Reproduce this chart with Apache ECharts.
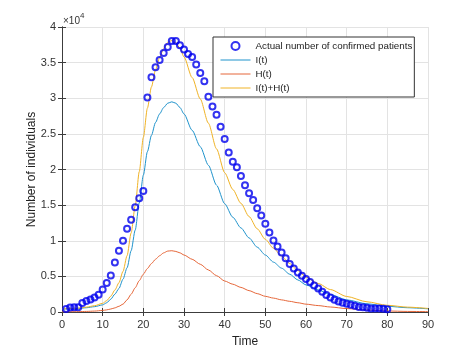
<html>
<head>
    <meta http-equiv="Content-Type" content="text/html; charset=utf-8" />
    <title>Confirmed patients</title>
    <script src="https://cdn.jsdelivr.net/npm/echarts@6/dist/echarts.min.js"></script>
    <style>
        html, body { margin: 0; padding: 0; background: #fff; }
    </style>
</head>
<body>
    <div id="main" style="width:474px;height:351px"></div>

    <script type="text/javascript">
        // observed data: day -> confirmed patients
        var days = [];
        for (var d = 1; d <= 80; d++) days.push(d);
        var confirmed = [
            420, 620, 650, 680, 1260, 1540, 1770, 2050, 2420, 3170,
            4060, 5130, 6950, 8580, 9990, 11670, 12930, 14700, 15970, 16990,
            30110, 32950, 34350, 35380, 36360, 37200, 38040, 38040, 37440, 36830,
            36220, 35800, 34730, 33560, 32400, 30200, 28850, 27680, 26000, 24270,
            22400, 21100, 20300, 19090, 17780, 16660, 15730, 14560, 13530, 12370,
            11150, 10030, 9190, 8350, 7560, 6720, 6110, 5550, 5080, 4620,
            4200, 3730, 3300, 2840, 2380, 2050, 1720, 1490, 1300, 1160,
            1020, 880, 700, 650, 600, 500, 500, 500, 450, 400
        ];

        // model curves, sampled at these times
        var tGrid = [0, 2, 4, 6, 8, 10, 11, 12, 13, 14, 15, 16, 17, 18, 19, 20, 21, 22, 23, 24,
            25, 26, 27, 28, 29, 30, 32, 34, 36, 38, 40, 42, 44, 46, 48, 50, 52, 54, 56, 58,
            60, 63, 66, 70, 75, 80, 85, 90];
        var iValues = [400, 450, 500, 600, 750, 1000, 1300, 1800, 2500, 3300, 4600, 6200, 8600, 11500, 15300, 19200, 22500, 24800, 26600, 27800,
            28700, 29300, 29500, 29300, 28700, 27800, 25500, 23200, 20600, 17800, 15200, 13300, 11800, 10400, 9100, 8000, 7000, 6150, 5300, 4500,
            3800, 3100, 2450, 1700, 1150, 800, 600, 450];
        var hValues = [30, 40, 50, 80, 130, 220, 300, 420, 580, 800, 1100, 1700, 2500, 3400, 4400, 5300, 6100, 6800, 7400, 7900,
            8300, 8550, 8600, 8500, 8300, 8000, 7400, 6700, 5900, 5100, 4350, 3900, 3450, 3000, 2580, 2200, 1950, 1700, 1500, 1300,
            1100, 900, 700, 480, 280, 140, 80, 50];
        var ihValues = [430, 490, 550, 680, 880, 1220, 1600, 2220, 3080, 4100, 5700, 7900, 11100, 14900, 19700, 24500, 28600, 31600, 34000, 35700,
            37000, 37850, 38100, 37800, 37000, 35800, 32900, 29900, 26500, 22900, 19550, 17200, 15250, 13400, 11680, 10200, 8950, 7850, 6800, 5800,
            4900, 4000, 3150, 2180, 1430, 940, 680, 500];

        var xTicks = [0, 90, 10];       // min, max, interval
        var yTicks = [0, 40000, 5000];

        function pairs(xs, ys) {
            var out = [];
            for (var i = 0; i < xs.length; i++) out.push([xs[i], ys[i]]);
            return out;
        }

        var font = 'Liberation Sans, Arial, sans-serif';
        var axisColor = '#3c3c3c';

        function lineSeries(name, color, vals) {
            return {
                name: name,
                type: 'line',
                data: pairs(tGrid, vals),
                symbol: 'none',
                smooth: 0.25,
                smoothMonotone: 'x',
                lineStyle: { color: color, width: 1 },
                itemStyle: { color: color },
                z: 2
            };
        }

        var option = {
            animation: false,
            backgroundColor: '#fff',
            textStyle: { fontFamily: font },
            grid: { left: 62, right: 46, top: 27, bottom: 39, containLabel: false, outerBoundsMode: 'none' },
            graphic: [{
                type: 'text',
                left: 63,
                top: 12,
                style: {
                    text: '{a|×10}{b|4}',
                    rich: {
                        a: { fontSize: 10, fontFamily: font, fill: '#333', padding: [4, 0, 0, 0] },
                        b: { fontSize: 8, fontFamily: font, fill: '#333', verticalAlign: 'top' }
                    }
                }
            }],
            legend: {
                orient: 'vertical',
                left: 213,
                top: 37,
                padding: [4, 2, 4, 7],
                itemWidth: 30,
                itemHeight: 8,
                itemGap: 4,
                backgroundColor: '#fff',
                borderColor: '#333',
                borderWidth: 1,
                borderRadius: 0,
                lineStyle: { width: 1 },
                textStyle: { fontSize: 9.8, color: '#222', fontFamily: font, lineHeight: 10 },
                data: [
                    { name: 'Actual number of confirmed patients' },
                    { name: 'I(t)', itemStyle: { opacity: 0 } },
                    { name: 'H(t)', itemStyle: { opacity: 0 } },
                    { name: 'I(t)+H(t)', itemStyle: { opacity: 0 } }
                ]
            },
            xAxis: [{
                type: 'value',
                min: xTicks[0], max: xTicks[1], interval: xTicks[2],
                name: 'Time',
                nameLocation: 'middle',
                nameGap: 24,
                nameTextStyle: { fontSize: 12, color: '#222', fontFamily: font },
                axisLine: { lineStyle: { color: axisColor, width: 1 } },
                axisTick: { inside: true, length: 4, lineStyle: { color: axisColor } },
                axisLabel: { fontSize: 11, color: '#333', margin: 7 },
                splitLine: { show: true, lineStyle: { color: '#e3e3e3', width: 1 } }
            }, {
                type: 'value',
                position: 'top',
                min: xTicks[0], max: xTicks[1], interval: xTicks[2],
                axisLine: { show: true, lineStyle: { color: axisColor, width: 1 } },
                axisTick: { show: true, inside: true, length: 4, lineStyle: { color: axisColor } },
                axisLabel: { show: false },
                splitLine: { show: false }
            }],
            yAxis: [{
                type: 'value',
                min: yTicks[0], max: yTicks[1], interval: yTicks[2],
                name: 'Number of individuals',
                nameLocation: 'middle',
                nameRotate: 90,
                nameGap: 24,
                nameMoveOverlap: false,
                nameTextStyle: { fontSize: 12, color: '#222', fontFamily: font },
                axisLine: { show: true, lineStyle: { color: axisColor, width: 1 } },
                axisTick: { show: true, inside: true, length: 4, lineStyle: { color: axisColor } },
                axisLabel: {
                    fontSize: 11, color: '#333', margin: 6,
                    formatter: function (v) { return String(v / 10000); }
                },
                splitLine: { show: true, lineStyle: { color: '#e3e3e3', width: 1 } }
            }, {
                type: 'value',
                position: 'right',
                min: yTicks[0], max: yTicks[1], interval: yTicks[2],
                axisLine: { show: true, lineStyle: { color: axisColor, width: 1 } },
                axisTick: { show: true, inside: true, length: 4, lineStyle: { color: axisColor } },
                axisLabel: { show: false },
                splitLine: { show: false }
            }],
            series: [
                {
                    name: 'Actual number of confirmed patients',
                    type: 'scatter',
                    data: pairs(days, confirmed),
                    symbol: 'circle',
                    symbolSize: 6,
                    itemStyle: { color: 'rgba(255,255,255,0)', borderColor: '#0000ee', borderWidth: 2 },
                    z: 3
                },
                lineSeries('I(t)', '#1f93cc', iValues),
                lineSeries('H(t)', '#e5673a', hValues),
                lineSeries('I(t)+H(t)', '#f0b326', ihValues)
            ]
        };

        var myChart = echarts.init(document.getElementById('main'));
        myChart.setOption(option);
    </script>
</body>
</html>
